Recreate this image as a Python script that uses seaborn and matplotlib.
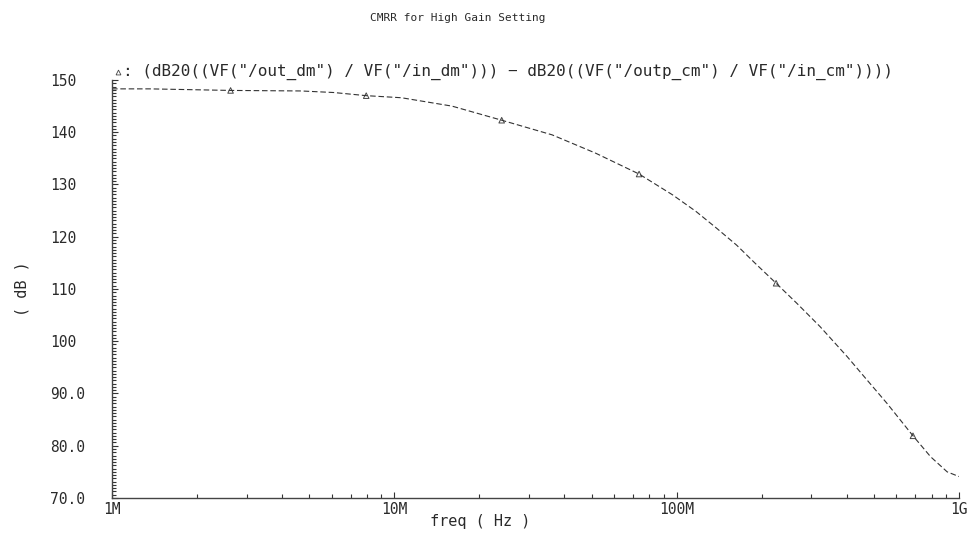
import numpy as np
import pandas as pd
import matplotlib
matplotlib.use("Agg")
import matplotlib.pyplot as plt
import matplotlib.ticker as mticker
import seaborn as sns

# CMRR trace (freq in Hz, level in dB)
freq_hz = [1.0e6, 1.36e6, 2.63e6, 4.67e6, 6.1e6, 7.95e6, 1.06e7, 1.6e7,
           2.4e7, 3.62e7, 5.16e7, 7.36e7, 9.68e7, 1.17e8, 1.38e8, 1.63e8,
           1.89e8, 2.25e8, 2.66e8, 3.22e8, 4.01e8, 4.72e8, 5.56e8, 6.87e8,
           7.93e8, 9.08e8, 1.0e9]
cmrr_db = [148.3, 148.3, 148.0, 147.9, 147.6, 147.0, 146.6, 145.0,
           142.3, 139.5, 136.0, 132.0, 128.0, 124.85, 121.7, 118.4,
           115.0, 111.1, 107.3, 102.8, 97.1, 92.6, 88.1, 81.9,
           77.9, 75.0, 74.1]
# samples that carry the trace symbol
marker_idx = [2, 5, 8, 11, 17, 23]

x_ticks = [1e6, 1e7, 1e8, 1e9]
x_tick_labels = ["1M", "10M", "100M", "1G"]
y_ticks = [70, 80, 90, 100, 110, 120, 130, 140, 150]
y_tick_labels = ["70.0", "80.0", "90.0", "100", "110", "120", "130", "140", "150"]

title = "CMRR for High Gain Setting"
trace_name = ('(dB20((VF("/out_dm") / VF("/in_dm"))) \u2212 '
              'dB20((VF("/outp_cm") / VF("/in_cm"))))')

sns.set_style("white")
plt.rcParams["font.family"] = ["DejaVu Sans Mono", "DejaVu Sans"]

ink = "#2a2a2a"
df = pd.DataFrame({"freq": freq_hz, "cmrr": cmrr_db})
mk = df.iloc[marker_idx]

fig = plt.figure(figsize=(9.74, 5.35), dpi=100)
ax = fig.add_axes([0.1150, 0.0692, 0.8696, 0.7813])

sns.lineplot(data=df, x="freq", y="cmrr", ax=ax, color="#333333",
             linewidth=0.8, linestyle=(0, (5, 2.5)), estimator=None)
sns.scatterplot(data=mk, x="freq", y="cmrr", ax=ax, marker="^", s=16,
                facecolor="none", edgecolor="#444444", linewidth=0.7)

ax.set_xscale("log")
ax.set_xlim(1e6, 1e9)
ax.set_ylim(70, 150)

ax.set_xticks(x_ticks)
ax.set_xticklabels(x_tick_labels)
ax.xaxis.set_minor_locator(mticker.LogLocator(base=10, subs=np.arange(2, 10)))
ax.xaxis.set_minor_formatter(mticker.NullFormatter())
ax.set_yticks(y_ticks)
ax.set_yticklabels(y_tick_labels)
ax.yaxis.set_minor_locator(mticker.MultipleLocator(0.625))

ax.tick_params(axis="both", which="both", direction="in", color="#333333",
               width=0.8, labelsize=10.5, labelcolor=ink,
               bottom=True, left=True, top=False, right=False)
ax.tick_params(axis="both", which="major", length=4.5)
ax.tick_params(axis="both", which="minor", length=3)
ax.tick_params(axis="x", pad=3)
ax.tick_params(axis="y", pad=44.6)
for lbl in ax.get_yticklabels():
    lbl.set_horizontalalignment("left")

for side in ["top", "right"]:
    ax.spines[side].set_visible(False)
for side in ["left", "bottom"]:
    ax.spines[side].set_color("#444444")
    ax.spines[side].set_linewidth(1.0)

ax.set_xlabel("freq ( Hz )", fontsize=11, color=ink)
ax.xaxis.set_label_coords((480 - 112) / 847, -24 / 418)
ax.xaxis.label.set_va("center")
ax.set_ylabel("( dB )", fontsize=11, color=ink)
ax.yaxis.set_label_coords((22 - 112) / 847, 0.5)
ax.yaxis.label.set_va("center")

fig.text(458 / 974, 1 - 18 / 535, title, ha="center", va="center",
         fontsize=8, color=ink)

# trace legend above the plot
ax.plot([0.0071], [1.02], marker="^", ms=3.5, mfc="none", mec="#444444",
        mew=0.6, transform=ax.transAxes, clip_on=False)
ax.text(0.0125, 1.02, ": " + trace_name, transform=ax.transAxes,
        ha="left", va="center", fontsize=11.5, color=ink)

fig.savefig("out.png", dpi=100, facecolor="white")
